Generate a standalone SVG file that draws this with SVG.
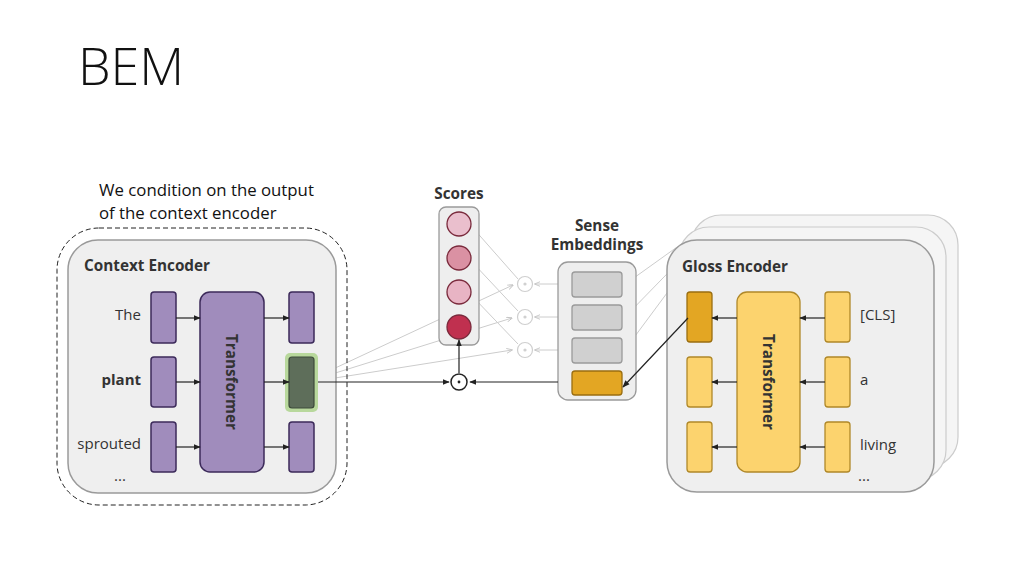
<svg xmlns="http://www.w3.org/2000/svg" width="1024" height="576" viewBox="0 0 1024 576">
<defs>
<style>
.title{font-family:"Open Sans","Liberation Sans",sans-serif;font-weight:300;font-size:52px;fill:#111}
.cap{font-family:"Open Sans","Liberation Sans",sans-serif;font-size:16.8px;fill:#111}
.hd{font-family:"Open Sans","Noto Sans",sans-serif;font-weight:700;font-size:15.3px;fill:#333}
.lb{font-family:"Open Sans","Noto Sans",sans-serif;font-size:15px;fill:#333}
.card{fill:#efefef;stroke:#9a9a9a;stroke-width:1.5}
.bcard{fill:#f5f5f5;stroke:#cccccc;stroke-width:1.2}
.pu{fill:#a08cbc;stroke:#3c2a5a;stroke-width:1.5}
.ye{fill:#fcd36e;stroke:#b08828;stroke-width:1.3}
.yd{fill:#e3a623;stroke:#9a6e10;stroke-width:1.3}
.gr{fill:#d0d0d0;stroke:#9a9a9a;stroke-width:1.3}
.ar{stroke:#222;stroke-width:1.2;fill:none;marker-end:url(#ah)}
.fa{stroke:#cccccc;stroke-width:1;fill:none;marker-end:url(#fah)}
</style>
<marker id="ah" viewBox="0 0 10 10" refX="9" refY="5" markerWidth="6" markerHeight="6" orient="auto"><path d="M0,1 L10,5 L0,9 z" fill="#222"/></marker>
<marker id="fah" viewBox="0 0 10 10" refX="9" refY="5" markerWidth="6" markerHeight="6" orient="auto"><path d="M0,1 L10,5 L0,9" fill="none" stroke="#c4c4c4" stroke-width="1.5"/></marker>
</defs>
<rect width="1024" height="576" fill="#ffffff"/>
<text class="title" x="78" y="85">BEM</text>
<text class="cap" x="99" y="196">We condition on the output</text>
<text class="cap" x="99" y="219">of the context encoder</text>

<g id="connectors-back">
<path class="fa" d="M316,377 L513,285"/>
<path class="fa" d="M316,379 L512,318"/>
<path class="fa" d="M316,381 L512,350"/>
<path class="fa" d="M518,279 L473,228"/>
<path class="fa" d="M518,311 L473,263"/>
<path class="fa" d="M518,344 L473,297"/>
<path class="fa" d="M570,284 L535,284"/>
<path class="fa" d="M570,317 L535,317"/>
<path class="fa" d="M570,350 L535,350"/>
<path class="fa" d="M712,222 L624,285"/>
<path class="fa" d="M700,240 L624,318"/>
<path class="fa" d="M690,262 L624,351"/>
</g>

<g id="context-encoder">
<rect x="57" y="228" width="290" height="277" rx="42" fill="none" stroke="#222" stroke-width="1" stroke-dasharray="5,3"/>
<rect class="card" x="68" y="240" width="268" height="253" rx="30"/>
<text class="hd" x="84" y="271">Context Encoder</text>
<rect class="pu" x="151" y="292" width="25" height="51" rx="3"/>
<rect class="pu" x="151" y="357" width="25" height="50" rx="3"/>
<rect class="pu" x="151" y="422" width="25" height="50" rx="3"/>
<rect class="pu" x="200" y="292" width="64" height="180" rx="10"/>
<text class="hd" transform="translate(226,382) rotate(90)" text-anchor="middle" font-size="15.8">Transformer</text>
<rect class="pu" x="289" y="292" width="25" height="51" rx="3"/>
<rect x="285" y="353" width="33" height="59" rx="5" fill="#b8d89c"/>
<rect x="289" y="357" width="25" height="51" rx="3" fill="#5e6e5a" stroke="#3c4a3a" stroke-width="1.2"/>
<rect class="pu" x="289" y="422" width="25" height="50" rx="3"/>
<text class="lb" x="141" y="320" text-anchor="end">The</text>
<text class="lb" x="141" y="385" text-anchor="end" font-weight="700">plant</text>
<text class="lb" x="141" y="449" text-anchor="end">sprouted</text>
<text class="lb" x="120" y="481" text-anchor="middle" font-size="11">...</text>
<path class="ar" d="M176,318 L200,318"/>
<path class="ar" d="M176,382 L200,382"/>
<path class="ar" d="M176,447 L200,447"/>
<path class="ar" d="M264,318 L289,318"/>
<path class="ar" d="M264,382 L289,382"/>
<path class="ar" d="M264,447 L289,447"/>
</g>

<g id="scores">
<text class="hd" x="459" y="199" text-anchor="middle">Scores</text>
<rect x="439" y="207" width="40" height="138" rx="7" fill="#eeeeee" stroke="#9a9a9a" stroke-width="1.3"/>
<circle cx="459" cy="224" r="12" fill="#eabfcd" stroke="#7a2a3c" stroke-width="1.3"/>
<circle cx="459" cy="258" r="12" fill="#da91a3" stroke="#7a2a3c" stroke-width="1.3"/>
<circle cx="459" cy="292" r="12" fill="#e8b4c4" stroke="#7a2a3c" stroke-width="1.3"/>
<circle cx="459" cy="327" r="12" fill="#c0304f" stroke="#7a2a3c" stroke-width="1.3"/>
</g>

<g id="faint-odots" fill="none" stroke="#cfcfcf" stroke-width="1.2">
<circle cx="525" cy="284" r="7.5"/><circle cx="525" cy="284" r="1" fill="#cfcfcf"/>
<circle cx="525" cy="317" r="7.5"/><circle cx="525" cy="317" r="1" fill="#cfcfcf"/>
<circle cx="525" cy="350" r="7.5"/><circle cx="525" cy="350" r="1" fill="#cfcfcf"/>
</g>

<g id="odot">
<circle cx="459" cy="382" r="8" fill="#fff" stroke="#222" stroke-width="1.5"/>
<circle cx="459" cy="382" r="1.4" fill="#222"/>
</g>

<g id="sense-embeddings">
<text class="hd" x="597" y="231" text-anchor="middle">Sense</text>
<text class="hd" x="597" y="250" text-anchor="middle">Embeddings</text>
<rect x="558" y="262" width="78" height="138" rx="10" fill="#eeeeee" stroke="#9a9a9a" stroke-width="1.3"/>
<rect class="gr" x="572" y="272" width="50" height="25" rx="3"/>
<rect class="gr" x="572" y="305" width="50" height="25" rx="3"/>
<rect class="gr" x="572" y="338" width="50" height="25" rx="3"/>
<rect class="yd" x="572" y="371" width="50" height="24" rx="3"/>
</g>

<g id="gloss-encoder">
<rect class="bcard" x="691" y="215" width="267" height="252" rx="30"/>
<rect class="bcard" x="679" y="227" width="267" height="253" rx="30"/>
<rect class="card" x="667" y="240" width="267" height="252" rx="30"/>
<text class="hd" x="682" y="272">Gloss Encoder</text>
<rect class="yd" x="687" y="292" width="25" height="50" rx="3"/>
<rect class="ye" x="687" y="357" width="25" height="50" rx="3"/>
<rect class="ye" x="687" y="422" width="25" height="50" rx="3"/>
<rect class="ye" x="737" y="292" width="63" height="180" rx="10"/>
<text class="hd" transform="translate(763,382) rotate(90)" text-anchor="middle" font-size="15.8">Transformer</text>
<rect class="ye" x="825" y="292" width="25" height="50" rx="3"/>
<rect class="ye" x="825" y="357" width="25" height="50" rx="3"/>
<rect class="ye" x="825" y="422" width="25" height="50" rx="3"/>
<text class="lb" x="860" y="320">[CLS]</text>
<text class="lb" x="860" y="385">a</text>
<text class="lb" x="860" y="450">living</text>
<text class="lb" x="864" y="481" text-anchor="middle" font-size="11">...</text>
<path class="ar" d="M825,318 L800,318"/>
<path class="ar" d="M825,382 L800,382"/>
<path class="ar" d="M825,447 L800,447"/>
<path class="ar" d="M737,318 L712,318"/>
<path class="ar" d="M737,382 L712,382"/>
<path class="ar" d="M737,447 L712,447"/>
</g>

<g id="connectors">
<path class="ar" d="M318,382 L449,382"/>
<path class="ar" d="M558,382 L470,382"/>
<path class="ar" d="M459,373 L459,340"/>
<path class="ar" d="M688,318 L623,387"/>
</g>
</svg>
